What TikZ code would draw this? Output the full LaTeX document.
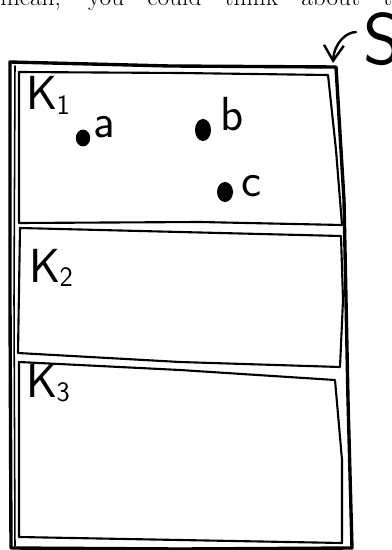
\documentclass[tikz,border=0pt]{standalone}
\usepackage{fontspec}
\usetikzlibrary{arrows.meta, shapes.geometric}
\newcommand{\setname}[1]{K\kern-0.5pt\raisebox{-3pt}{\fontsize{20}{20}\selectfont #1}}

\begin{document}
\begin{tikzpicture}[
		x=0.025cm, y=-0.025cm,
		frame/.style={line width=2.4pt, line join=round, line cap=round},
		setbox/.style={line width=1.5pt, line join=round, line cap=round},
		dot/.style={ellipse, fill, inner sep=0pt, minimum width=0.4cm, minimum height=0.5cm},
		elemlabel/.style={font=\fontsize{34}{34}\selectfont\sffamily, inner sep=0pt},
		setlabel/.style={font=\fontsize{34}{34}\selectfont\sffamily, inner sep=0pt, anchor=base west},
		arrow/.style={-{Straight Barb[length=11pt, width=14pt]}, line width=1.7pt, line cap=round}
		]
		
		\clip (0,0) rectangle (391,550);
		
		% clipped line of the text above the sketch
		\node[anchor=base west, inner sep=0pt, font=\fontsize{18}{18}\selectfont] (intro) at (0,6)
		{\makebox[10.375cm][s]{mean, you could think about the}};
		
		% outer frame S
		\draw[frame] (10,62) -- (170,66) -- (336,67) -- (344,200) -- (348,400) -- (352,548)
		-- (180,549) -- (11,548) -- (10,300) -- cycle;
		\draw[line width=1.1pt, line cap=round] (15,66) -- (14,300) -- (15,546);
		
		% the three parts
		\draw[setbox] (19,72) -- (180,73) -- (328,75) -- (336,150) -- (342,225)
		-- (200,222) -- (19,223) -- (19,150) -- cycle;
		\draw[setbox] (20,228) -- (180,232) -- (341,236) -- (343,300) -- (340,367)
		-- (180,362) -- (18,353) -- (19,290) -- cycle;
		\draw[setbox] (19,362) -- (180,370) -- (335,380) -- (342,460) -- (342,543)
		-- (180,540) -- (19,537) -- (19,450) -- cycle;
		
		\node[setlabel] (k1) at (26,110) {\setname{1}};
		\node[setlabel] (k2) at (29,282) {\setname{2}};
		\node[setlabel] (k3) at (26,397) {\setname{3}};
		
		% elements
		\node[dot, minimum width=0.36cm, minimum height=0.42cm] (a) at (83,138) {};
		\node[dot, minimum height=0.55cm] (b) at (203,130) {};
		\node[dot] (c) at (225,192) {};
		\node[elemlabel, anchor=base west] (la) at (93,138) {a};
		\node[elemlabel, anchor=base west] (lb) at (220,131) {b};
		\node[elemlabel, anchor=base west] (lc) at (241,197) {c};
		
		% name of the whole set
		\node[anchor=base west, inner sep=0pt, font=\fontsize{52}{52}\selectfont\sffamily] (S) at (363,65) {S};
		\coordinate (corner) at (333,63);
		\draw[arrow, shorten <=5pt] (S.160) .. controls +(-16,-1) and +(1,-20) .. (corner);
		
	\end{tikzpicture}
\end{document}
